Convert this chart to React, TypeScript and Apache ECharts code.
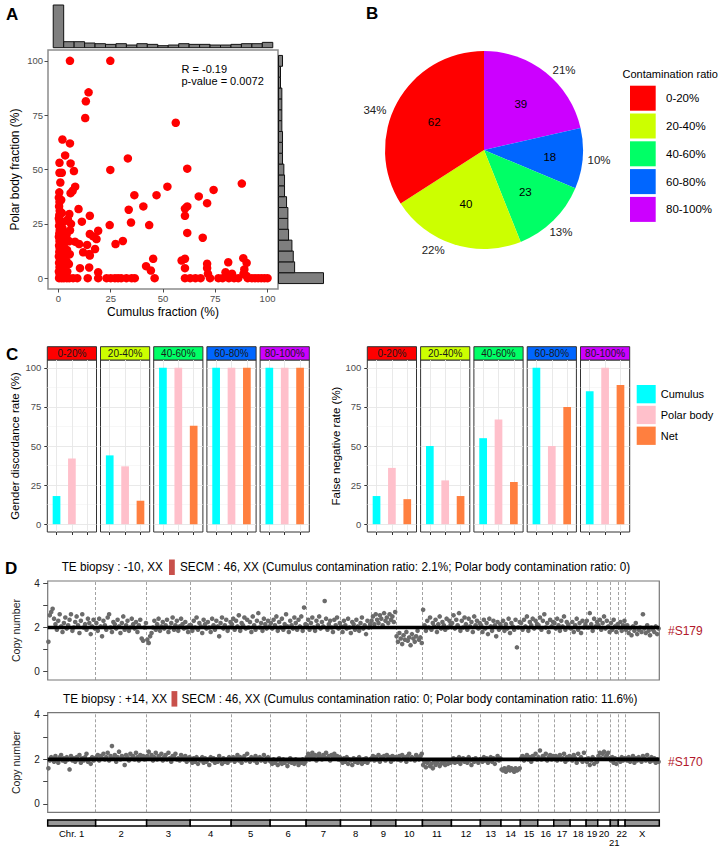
import React, { useEffect, useRef } from "react";
import * as echarts from "echarts";

const FONT = "'Liberation Sans', Arial, Helvetica, sans-serif";

// ---------------- Panel A data ----------------
const cumulusPolarPairs: [number, number][] = [
  [5.5, 100], [24.8, 100], [14.4, 85.5], [13.1, 81.4], [12.8, 73.7], [56.1, 71.5], [1.9, 63.8], [5.5, 62],
  [3.2, 56.5], [33.2, 55.1], [0.5, 53.1], [5.8, 52.8], [7.4, 49.3], [0.5, 48.5], [1.6, 48.5], [24.8, 49.8],
  [61.6, 50.4], [0.9, 44], [8, 42.1], [6.8, 40.2], [5.8, 39.1], [52.1, 42.1], [46.9, 38.2], [36.3, 38.2],
  [87.7, 43.5], [74.2, 40.6], [67.1, 37.6], [71.1, 34.5], [40.6, 33], [61.6, 33], [60.5, 32], [33.6, 31.5],
  [9.6, 31.8], [5.2, 29.5], [15, 28.7], [60.5, 28.7], [11.2, 26], [34.7, 25.6], [24.5, 24.4], [43.4, 24.4],
  [61.6, 20.8], [69, 18.6], [19, 21.8], [16.6, 19.2], [18.2, 18], [15, 20.3], [30.8, 17.1], [27.3, 15.7],
  [7.9, 16.8], [9.9, 15.7], [13.7, 15.3], [11.8, 11.9], [14.7, 11.1], [17.5, 13.4], [15, 10.4], [10.3, 4.6],
  [14.7, 4.9], [19, 2.7], [45.3, 8.9], [41.9, 5.5], [44.2, 3.5], [58.9, 8.1], [60.5, 8.9], [60.5, 4.6],
  [71.1, 6.6], [71.1, 4.6], [81.2, 7.3], [79.9, 2.7], [88.4, 9.2], [90, 7], [88.9, 4],
  [0.3, 0], [0.6, 1.5], [0.2, 3], [0.5, 5], [0.3, 7], [0.7, 8.5], [0.2, 10], [0.4, 12], [0.6, 13.5], [0.3, 15],
  [0.5, 17], [0.2, 19], [0.4, 20.5], [0.6, 22], [0.3, 24], [0.5, 26], [0.2, 27.5], [0.4, 29], [0.6, 31],
  [0.3, 33], [0.5, 35], [0.2, 37], [0.4, 39.5],
  [1.5, 0], [1.8, 4], [1.4, 9], [1.7, 14], [1.5, 18], [1.9, 23], [1.6, 30], [1.3, 36],
  [2.6, 0], [2.4, 2], [2.7, 6], [2.5, 11], [2.8, 16], [2.3, 21], [2.6, 26],
  [4, 0], [4.2, 3], [3.8, 8], [4.1, 13], [4.3, 17.5], [3.9, 20],
  [5.2, 0], [5, 6.5], [5.4, 11], [5.1, 17], [5.5, 22], [6, 25], [4.5, 27],
  [7, 0], [9, 0], [14, 0], [19, 0], [23, 0], [25, 0], [27, 0], [28.5, 0], [30, 0], [32.5, 0], [35, 0],
  [36.5, 0], [46, 0], [60.5, 0], [63, 0], [65.5, 0], [68, 0], [72.5, 0], [76.5, 0], [78.5, 0], [81.5, 0],
  [84, 0], [86, 0], [90.5, 0], [92.5, 0], [94, 0], [95.5, 0], [97, 0], [98.5, 0], [100, 0],
  [71.5, 2], [81, 1.5], [83, 2], [88.5, 2], [90, 1]
];
const histBins = [0, 5, 10, 15, 20, 25, 30, 35, 40, 45, 50, 55, 60, 65, 70, 75, 80, 85, 90, 95, 100];
const cumulusHistCounts = [64, 9, 9, 7, 6, 5, 6, 4, 6, 5, 3, 4, 6, 5, 5, 4, 4, 5, 6, 6, 8];
const polarHistCounts = [67, 24, 22, 20, 15, 14, 14, 12, 9, 9, 8, 6, 6, 6, 5, 5, 5, 5, 3, 3, 6];
const fractionTicks = [0, 25, 50, 75, 100];
const statR = "R = -0.19";
const statP = "p-value = 0.0072";

// ---------------- Panel B data ----------------
const ratioCategories = ["0-20%", "20-40%", "40-60%", "60-80%", "80-100%"];
const ratioCounts = [62, 40, 23, 18, 39];
const ratioColors = ["#FF0000", "#CCFF00", "#00FF66", "#0066FF", "#CC00FF"];

// ---------------- Panel C data ----------------
const sampleTypes = ["Cumulus", "Polar body", "Net"];
const sampleColors = ["#00FFFF", "#FFC0CB", "#FF7F3F"];
const genderCumulus = [18, 44, 100, 100, 100];
const genderPolar = [42, 37, 100, 100, 100];
const genderNet = [0, 15, 63, 100, 100];
const fnCumulus = [18, 50, 55, 100, 85];
const fnPolar = [36, 28, 67, 50, 100];
const fnNet = [16, 18, 27, 75, 89];
const rateTicks = [0, 25, 50, 75, 100];
const rateMinorTicks = [12.5, 37.5, 62.5, 87.5];

// ---------------- Panel D data ----------------
const chromLabels = ["Chr. 1", "2", "3", "4", "5", "6", "7", "8", "9", "10", "11", "12", "13", "14", "15", "16", "17", "18", "19", "20", "21", "22", "X"];
const chromSizes = [240, 255, 218, 205, 195, 180, 172, 152, 125, 133, 145, 145, 103, 97, 87, 80, 82, 80, 58, 63, 40, 34, 171];
const copyNumberS179: number[][] = [
  [1.35, 2.55, 2.7, 2.85, 2.4, 2.15, 1.9, 2.3, 2.6, 2.05, 1.8, 2.2, 2.45, 1.95, 2.1, 2.35, 2.6, 1.85, 2.0, 2.25, 2.5, 2.1, 1.75, 2.3, 2.6, 2.0, 2.15, 1.9, 2.4, 2.2, 1.7, 2.05, 2.35, 1.95],
  [2.2, 1.85, 2.4, 2.05, 1.6, 2.3, 2.1, 1.9, 2.45, 2.6, 2.0, 1.8, 2.25, 2.15, 1.95, 2.35, 2.05, 1.75, 2.2, 2.5, 1.9, 2.1, 2.3, 1.85, 2.0, 2.4, 2.15, 1.95, 2.25, 1.8, 2.1, 2.35, 1.5, 1.4, 2.0, 2.2],
  [1.45, 1.3, 1.6, 1.75, 2.0, 2.3, 1.9, 2.15, 2.4, 1.85, 2.05, 2.25, 1.95, 2.1, 2.35, 1.8, 2.0, 2.2, 2.45, 1.9, 2.1, 2.3, 1.85, 2.05, 2.4, 2.15, 1.95, 2.25, 2.0, 1.8, 2.1],
  [2.1, 1.85, 2.3, 2.0, 2.45, 1.9, 2.2, 2.05, 1.75, 2.35, 2.15, 1.95, 2.25, 2.0, 1.8, 2.4, 2.1, 1.9, 2.3, 2.05, 1.6, 2.2, 2.45, 1.95, 2.1, 2.35, 1.85, 2.0, 2.25],
  [2.15, 2.4, 1.9, 2.3, 2.05, 2.55, 1.85, 2.2, 2.1, 2.45, 1.95, 2.35, 2.0, 2.25, 1.8, 2.5, 2.1, 1.9, 2.3, 2.65, 2.0, 2.2, 1.85, 2.4, 2.15, 1.95, 2.3, 2.05],
  [2.2, 1.95, 2.35, 2.1, 2.5, 1.85, 2.25, 2.0, 2.4, 1.9, 2.15, 2.6, 2.05, 1.8, 2.3, 2.1, 1.95, 2.45, 2.2, 1.9, 2.35, 2.05, 2.5, 1.85, 2.9, 2.15],
  [2.1, 2.35, 1.9, 2.2, 2.45, 2.0, 1.85, 2.3, 2.1, 2.5, 1.95, 2.25, 2.05, 3.2, 2.4, 1.9, 2.15, 2.3, 2.0, 1.8, 2.35, 2.1, 2.45, 1.95, 2.2],
  [2.05, 1.8, 2.3, 2.1, 1.95, 2.4, 2.0, 1.75, 2.25, 2.15, 1.9, 2.35, 2.05, 1.85, 2.2, 2.45, 1.95, 2.1, 1.7, 2.3, 2.0, 2.15],
  [2.3, 2.5, 2.15, 2.6, 2.35, 2.2, 2.55, 2.4, 2.1, 2.65, 2.3, 2.45, 2.2, 2.6, 2.35, 2.5, 2.25, 2.7],
  [1.6, 1.35, 1.75, 1.5, 1.25, 1.65, 1.45, 1.8, 1.4, 1.55, 1.2, 1.7, 1.5, 1.35, 1.6, 1.85, 1.45, 1.55, 1.3],
  [2.8, 2.1, 1.85, 2.3, 2.0, 2.45, 1.9, 2.2, 2.05, 2.35, 1.8, 2.15, 2.5, 1.95, 2.25, 2.1, 1.9, 2.4, 2.0, 2.3, 2.15],
  [2.2, 2.55, 1.95, 2.35, 2.1, 2.65, 1.85, 2.3, 2.0, 2.45, 2.15, 1.9, 2.4, 2.05, 2.25, 1.8, 2.5, 2.1, 2.3, 1.95, 2.2],
  [2.1, 1.8, 2.35, 1.95, 2.2, 1.7, 2.4, 2.05, 1.85, 2.3, 2.1, 1.6, 2.25, 1.9, 2.15],
  [2.0, 2.3, 1.85, 2.15, 1.95, 2.4, 1.75, 2.2, 2.05, 1.9, 2.35, 1.1, 2.0, 2.25],
  [2.2, 1.9, 2.35, 2.05, 2.5, 1.85, 2.25, 2.1, 2.4, 1.95, 2.3, 2.15],
  [2.1, 2.45, 1.9, 2.3, 2.6, 2.0, 2.2, 1.8, 2.35, 2.05, 2.25],
  [2.2, 1.95, 2.4, 2.1, 1.85, 2.3, 2.05, 2.5, 1.9, 2.25, 2.15, 2.0],
  [1.95, 2.25, 1.8, 2.1, 2.4, 1.9, 2.2, 1.75, 2.3, 2.0, 2.15],
  [2.3, 2.0, 2.65, 2.15, 1.85, 2.4, 2.05, 2.25],
  [2.1, 2.35, 1.9, 2.2, 2.5, 1.95, 2.3, 2.05, 1.8],
  [2.2, 1.9, 2.35, 2.05, 1.8, 2.15],
  [2.0, 2.25, 1.85, 2.1, 2.3],
  [1.9, 2.1, 1.75, 1.95, 1.65, 2.05, 1.85, 2.2, 1.7, 1.9, 2.0, 1.8, 2.6, 1.95, 1.75, 2.1, 1.85, 1.65, 2.0, 1.9, 1.8, 2.05, 1.7, 1.95]
];
const copyNumberS170: number[][] = [
  [1.6, 1.95, 2.1, 2.05, 1.9, 2.15, 2.0, 1.85, 2.1, 2.2, 1.95, 2.05, 1.9, 2.1, 2.0, 1.55, 2.15, 1.95, 2.05, 1.9, 2.1, 2.0, 2.2, 1.85, 2.05, 1.95, 2.1, 2.25, 1.9, 2.0, 1.8, 2.1, 1.95, 2.05],
  [2.1, 2.2, 1.95, 2.15, 2.05, 2.25, 2.0, 2.1, 2.3, 1.95, 2.15, 2.6, 2.05, 2.2, 1.9, 2.1, 2.35, 2.0, 2.15, 2.05, 1.75, 2.2, 2.1, 1.95, 2.25, 2.05, 2.15, 2.0, 2.3, 2.1, 1.95, 2.2, 2.05, 2.15, 2.0, 2.1],
  [2.15, 2.35, 2.05, 2.2, 1.95, 2.1, 2.3, 2.0, 2.15, 2.05, 2.25, 1.95, 2.1, 2.2, 2.0, 2.3, 2.05, 1.9, 2.15, 2.1, 2.25, 2.0, 2.05, 1.95, 2.2, 2.1, 2.0, 2.15, 1.9, 2.05, 2.1],
  [1.95, 1.85, 2.05, 1.9, 2.1, 1.8, 2.0, 1.95, 2.1, 1.85, 2.05, 1.9, 2.0, 1.75, 2.1, 1.95, 2.05, 1.85, 2.0, 1.9, 2.15, 1.95, 1.8, 2.05, 1.9, 2.0, 1.85, 2.1, 1.95],
  [2.0, 2.1, 1.9, 2.05, 2.2, 1.95, 2.1, 1.85, 2.05, 2.15, 1.95, 2.25, 2.0, 1.9, 2.1, 2.05, 1.95, 2.15, 1.85, 2.05, 2.1, 1.95, 2.0, 2.2, 1.9, 2.05, 2.1, 1.95],
  [1.9, 1.8, 2.0, 1.85, 1.95, 1.75, 2.05, 1.9, 1.8, 2.0, 1.85, 1.95, 1.7, 1.9, 2.05, 1.85, 1.95, 1.8, 2.0, 1.9, 1.75, 1.95, 1.85, 2.0, 1.8, 1.9],
  [2.1, 2.25, 2.0, 2.15, 2.3, 2.05, 2.2, 1.95, 2.15, 2.25, 2.1, 2.0, 2.2, 2.1, 2.3, 2.05, 2.15, 1.95, 2.2, 2.1, 2.25, 2.05, 2.15, 2.0, 2.1],
  [1.95, 1.85, 2.05, 1.9, 2.1, 1.8, 2.0, 1.95, 1.75, 2.05, 1.9, 2.0, 1.85, 2.1, 1.95, 1.8, 2.0, 1.9, 2.05, 1.85, 1.95, 2.0],
  [2.05, 2.15, 1.95, 2.1, 2.0, 2.2, 1.9, 2.1, 2.05, 2.15, 1.95, 2.2, 2.05, 2.1, 1.9, 2.15, 2.0, 2.1],
  [2.1, 2.0, 2.15, 1.95, 2.2, 2.05, 2.1, 1.9, 2.15, 2.25, 2.0, 2.1, 2.05, 1.95, 2.2, 2.1, 2.0, 2.15, 2.25],
  [1.75, 1.9, 1.65, 1.85, 1.95, 1.7, 1.8, 1.6, 1.9, 1.75, 1.85, 1.95, 1.7, 1.8, 1.9, 1.85, 1.75, 1.95, 1.8, 1.9, 1.85],
  [1.95, 2.05, 1.85, 2.0, 1.9, 2.1, 1.8, 1.95, 2.05, 1.9, 2.0, 1.85, 2.1, 1.95, 1.75, 2.0, 1.9, 2.05, 1.95, 1.85, 2.0],
  [2.0, 1.9, 2.1, 1.95, 2.05, 1.85, 2.0, 2.1, 1.9, 2.05, 1.8, 2.0, 2.15, 1.95, 2.05],
  [1.55, 1.5, 1.6, 1.45, 1.55, 1.65, 1.5, 1.6, 1.55, 1.45, 1.6, 1.5, 1.55, 1.6],
  [2.05, 2.15, 1.95, 2.1, 2.2, 2.0, 2.1, 1.9, 2.15, 2.05, 2.25, 2.0],
  [2.1, 2.4, 2.0, 2.15, 2.05, 2.25, 1.95, 2.1, 2.2, 2.0, 2.15],
  [2.05, 2.15, 1.95, 2.1, 2.2, 2.0, 2.05, 2.25, 1.9, 2.1, 2.0, 2.15],
  [2.1, 1.95, 2.2, 2.05, 1.85, 2.25, 2.0, 2.1, 1.9, 2.3, 2.0],
  [1.9, 2.05, 1.75, 1.95, 2.1, 1.8, 2.0, 1.9],
  [2.15, 2.3, 2.05, 2.25, 2.35, 2.1, 2.2, 2.3, 2.05],
  [1.95, 2.1, 1.85, 2.05, 1.8, 2.0],
  [2.0, 1.9, 2.1, 1.95, 2.05],
  [2.05, 1.95, 2.1, 1.9, 2.0, 2.15, 1.85, 2.05, 1.95, 2.1, 2.0, 1.9, 2.15, 2.05, 1.95, 2.2, 2.0, 1.9, 2.1, 1.95, 2.05, 1.85, 2.0, 1.9]
];
const copyNumberLabelTicks = [0, 2, 4];
const copyNumberTicks = [0, 1, 2, 3, 4];
const diploidLevel = 2;
const sampleIds = ["#S179", "#S170"];
const titleLeft = ["TE biopsy : -10, XX", "TE biopsy : +14, XX"];
const titleRight = [
  "SECM : 46, XX (Cumulus contamination ratio: 2.1%; Polar body contamination ratio: 0)",
  "SECM : 46, XX (Cumulus contamination ratio: 0; Polar body contamination ratio: 11.6%)"
];

function buildOption(): any {
  const grid: any[] = [];
  const xAxis: any[] = [];
  const yAxis: any[] = [];
  const series: any[] = [];
  const graphic: any[] = [];

  const addGrid = (g: any, x: any, y: any) => {
    grid.push({ containLabel: false, outerBoundsMode: "none", ...g });
    const idx = grid.length - 1;
    xAxis.push({ gridIndex: idx, nameMoveOverlap: false, ...x });
    yAxis.push({ gridIndex: idx, nameMoveOverlap: false, ...y });
    return idx;
  };
  const hidden = { show: false };
  const noLine = { show: false, onZero: false };

  // ===== Panel A: scatter =====
  const gA = addGrid(
    { left: 48, top: 50, width: 230, height: 239, show: true, borderColor: "#8c8c8c", borderWidth: 1.5, backgroundColor: "#fff" },
    {
      type: "value", min: -5, max: 105, axisLine: noLine, splitLine: hidden,
      axisTick: { show: true, customValues: fractionTicks, length: 3.5, lineStyle: { color: "#4d4d4d" } },
      axisLabel: { customValues: fractionTicks, color: "#4d4d4d", fontSize: 9.5, margin: 4 },
      name: "Cumulus fraction (%)", nameLocation: "middle", nameGap: 16.5, nameTextStyle: { fontSize: 12, color: "#000" }
    },
    {
      type: "value", min: -5, max: 105, axisLine: noLine, splitLine: hidden,
      axisTick: { show: true, customValues: fractionTicks, length: 3.5, lineStyle: { color: "#4d4d4d" } },
      axisLabel: { customValues: fractionTicks, color: "#4d4d4d", fontSize: 9.5, margin: 5 },
      name: "Polar body fraction (%)", nameLocation: "middle", nameGap: 27, nameTextStyle: { fontSize: 12, color: "#000" }
    }
  );
  series.push({
    type: "scatter", xAxisIndex: gA, yAxisIndex: gA, data: cumulusPolarPairs, symbolSize: 8.5,
    itemStyle: { color: "#FF0000", opacity: 1 }, silent: true, z: 3
  });

  // top marginal histogram
  const gT = addGrid(
    { left: 48, top: 5, width: 230, height: 42.7 },
    { type: "value", min: -5, max: 105, show: false, axisLine: noLine },
    { type: "value", min: 0, max: 64, show: false, axisLine: noLine }
  );
  series.push({
    type: "custom", xAxisIndex: gT, yAxisIndex: gT, silent: true,
    data: histBins.map((b, i) => [b, cumulusHistCounts[i]]),
    renderItem: (_p: any, api: any) => {
      const c = api.value(0), n = api.value(1);
      const p0 = api.coord([c - 2.5, 0]);
      const p1 = api.coord([c + 2.5, n]);
      return { type: "rect", shape: { x: p0[0], y: p1[1], width: p1[0] - p0[0], height: p0[1] - p1[1] }, style: { fill: "#7f7f7f", stroke: "#111", lineWidth: 1 } };
    }
  });

  // right marginal histogram
  const gR = addGrid(
    { left: 278.5, top: 50, width: 45, height: 239 },
    { type: "value", min: 0, max: 67, show: false, axisLine: noLine },
    { type: "value", min: -5, max: 105, show: false, axisLine: noLine }
  );
  series.push({
    type: "custom", xAxisIndex: gR, yAxisIndex: gR, silent: true,
    data: histBins.map((b, i) => [polarHistCounts[i], b]),
    renderItem: (_p: any, api: any) => {
      const n = api.value(0), c = api.value(1);
      const p0 = api.coord([0, c + 2.5]);
      const p1 = api.coord([n, c - 2.5]);
      return { type: "rect", shape: { x: p0[0], y: p0[1], width: p1[0] - p0[0], height: p1[1] - p0[1] }, style: { fill: "#7f7f7f", stroke: "#111", lineWidth: 1 } };
    }
  });

  graphic.push(
    { type: "text", left: 6, top: 6, style: { text: "A", fontSize: 17, fontWeight: "bold", fill: "#000", fontFamily: FONT } },
    { type: "text", x: 181.5, y: 68.5, style: { text: statR, fontSize: 11, fill: "#000", fontFamily: FONT, verticalAlign: "middle" } },
    { type: "text", x: 181.5, y: 81, style: { text: statP, fontSize: 11, fill: "#000", fontFamily: FONT, verticalAlign: "middle" } }
  );

  // ===== Panel B: pie =====
  const pieCenter = [484, 150];
  const order = [4, 3, 2, 1, 0];
  const countOffsets: number[][] = [[0, 0], [7, 2], [0, 0], [0, -2], [2, 0]];
  const pctOffsets: number[][] = [[9, 9], [1.5, 0], [-3, 1], [-16, -9], [-9, 15]];
  const pieBase = order.map((i) => ({ name: ratioCategories[i], value: ratioCounts[i] }));
  series.push({
    type: "pie", center: pieCenter, radius: [0, 99], startAngle: 90, clockwise: true, silent: true,
    data: pieBase.map((d, k) => ({ ...d, itemStyle: { color: ratioColors[order[k]] } })),
    itemStyle: { borderWidth: 0 }, label: { show: false }, labelLine: { show: false }, emphasis: { disabled: true }
  });
  series.push({
    type: "pie", center: pieCenter, radius: [0, 112], startAngle: 90, clockwise: true, silent: true, z: 3,
    data: pieBase.map((d, k) => ({ ...d, label: { offset: countOffsets[k] } })),
    itemStyle: { color: "rgba(0,0,0,0)", borderWidth: 0 },
    label: { show: true, position: "inside", formatter: "{c}", color: "#000", fontSize: 11.5, fontFamily: FONT },
    labelLine: { show: false }, emphasis: { disabled: true }
  });
  // percentage labels outside the pie, positioned from the slice shares
  const pieTotal = ratioCounts.reduce((a, b) => a + b, 0);
  let cum = 0;
  order.forEach((i, k) => {
    const share = ratioCounts[i] / pieTotal;
    const mid = (cum + share / 2) * Math.PI * 2;
    cum += share;
    const r = 114;
    graphic.push({
      type: "text",
      x: pieCenter[0] + r * Math.sin(mid) + pctOffsets[k][0],
      y: pieCenter[1] - r * Math.cos(mid) + pctOffsets[k][1],
      style: { text: Math.round(share * 100) + "%", fontSize: 11.5, fill: "#222", fontFamily: FONT, align: "center", verticalAlign: "middle" }
    });
  });
  graphic.push(
    { type: "text", left: 366, top: 5, style: { text: "B", fontSize: 17, fontWeight: "bold", fill: "#000", fontFamily: FONT } },
    { type: "text", x: 622.5, y: 73.5, style: { text: "Contamination ratio", fontSize: 11, fill: "#000", fontFamily: FONT, verticalAlign: "middle" } }
  );
  ratioCategories.forEach((c, i) => {
    const y = 85.7 + i * 27.8;
    graphic.push(
      { type: "rect", shape: { x: 630, y, width: 25.7, height: 25 }, style: { fill: ratioColors[i] } },
      { type: "text", x: 666, y: y + 12.5, style: { text: c, fontSize: 11.5, fill: "#000", fontFamily: FONT, verticalAlign: "middle" } }
    );
  });

  // ===== Panel C: faceted bars =====
  const panels = [
    { left0: 47.3, pitch: 53.2, name: "Gender discordance rate (%)", gap: 26.5, vals: [genderCumulus, genderPolar, genderNet] },
    { left0: 367.3, pitch: 53.3, name: "False negative rate (%)", gap: 25.5, vals: [fnCumulus, fnPolar, fnNet] }
  ];
  const facetW = 49.2, facetTop = 360, facetH = 172;
  panels.forEach((p) => {
    ratioCategories.forEach((cat, i) => {
      const left = p.left0 + i * p.pitch;
      const first = i === 0;
      const g = addGrid(
        { left, top: facetTop, width: facetW, height: facetH, show: true, borderColor: "#333", borderWidth: 1, backgroundColor: "#fff" },
        {
          type: "value", min: 0.4, max: 3.6, axisLine: noLine, splitLine: hidden, axisLabel: hidden,
          axisTick: { show: true, customValues: [1, 2, 3], length: 3, lineStyle: { color: "#333" } }
        },
        first
          ? {
              type: "value", min: -5, max: 105, axisLine: noLine, splitLine: hidden,
              axisTick: { show: true, customValues: rateTicks, length: 3, lineStyle: { color: "#333" } },
              axisLabel: { customValues: rateTicks, color: "#4d4d4d", fontSize: 9.5, margin: 6 },
              name: p.name, nameLocation: "middle", nameGap: p.gap, nameTextStyle: { fontSize: 11.5, color: "#000" }
            }
          : { type: "value", min: -5, max: 105, axisLine: noLine, splitLine: hidden, axisTick: hidden, axisLabel: hidden }
      );
      const lines: any[] = [];
      rateMinorTicks.forEach((v) => lines.push({ yAxis: v, lineStyle: { color: "#f2f2f2", width: 0.6, type: "solid" } }));
      rateTicks.forEach((v) => lines.push({ yAxis: v, lineStyle: { color: "#e6e6e6", width: 0.9, type: "solid" } }));
      [1, 2, 3].forEach((v) => lines.push({ xAxis: v, lineStyle: { color: "#e6e6e6", width: 0.9, type: "solid" } }));
      series.push({
        type: "bar", xAxisIndex: g, yAxisIndex: g, barWidth: 7.7, silent: true, z: 2,
        data: sampleTypes.map((s, j) => ({ name: s, value: [j + 1, p.vals[j][i]], itemStyle: { color: sampleColors[j] } })),
        markLine: { silent: true, symbol: "none", z: 1, label: { show: false }, emphasis: { disabled: true }, data: lines }
      });
      graphic.push(
        { type: "rect", shape: { x: left, y: 346.7, width: facetW, height: 13.3 }, style: { fill: ratioColors[i], stroke: "#333", lineWidth: 1 } },
        { type: "text", x: left + facetW / 2, y: 353.6, style: { text: cat, fontSize: 10, fill: "#1a1a1a", fontFamily: FONT, align: "center", verticalAlign: "middle" } }
      );
    });
  });
  sampleTypes.forEach((s, i) => {
    const y = 385 + i * 20.8;
    graphic.push(
      { type: "rect", shape: { x: 636.7, y, width: 19, height: 18.3 }, style: { fill: sampleColors[i] } },
      { type: "text", x: 660.7, y: y + 9.2, style: { text: s, fontSize: 11, fill: "#000", fontFamily: FONT, verticalAlign: "middle" } }
    );
  });
  graphic.push({ type: "text", left: 6, top: 346, style: { text: "C", fontSize: 17, fontWeight: "bold", fill: "#000", fontFamily: FONT } });

  // ===== Panel D: copy number profiles =====
  const starts: number[] = [];
  let acc = 0;
  chromSizes.forEach((s) => { starts.push(acc); acc += s; });
  const total = acc;
  const boundaries = starts.slice(1);
  const dLeft = 47.7, dWidth = 611.6;
  const dPanels = [
    { top: 581, height: 99, values: copyNumberS179, titleY: 567, left1: 61.7, barX: 169, left2: 180, labelY: 631 },
    { top: 712.6, height: 99.7, values: copyNumberS170, titleY: 698.6, left1: 63, barX: 171.5, left2: 181.5, labelY: 762 }
  ];
  const narrow = 0.89;
  dPanels.forEach((dp, k) => {
    const g = addGrid(
      { left: dLeft, top: dp.top, width: dWidth, height: dp.height, show: true, borderColor: "#777", borderWidth: 1.2, backgroundColor: "#fff" },
      { type: "value", min: 0, max: total, show: false, axisLine: noLine },
      {
        type: "value", min: -0.376, max: 4.104, axisLine: noLine, splitLine: hidden,
        axisTick: { show: true, customValues: copyNumberTicks, length: 4.5, lineStyle: { color: "#444" } },
        axisLabel: { customValues: copyNumberLabelTicks, color: "#222", fontSize: 10, margin: 8 },
        name: "Copy number", nameLocation: "middle", nameGap: 26, nameTextStyle: { fontSize: 10.5, color: "#222" }
      }
    );
    const pts: number[][] = [];
    dp.values.forEach((arr, c) => {
      arr.forEach((v, j) => pts.push([starts[c] + ((j + 0.5) * chromSizes[c]) / arr.length, v]));
    });
    series.push({
      type: "scatter", xAxisIndex: g, yAxisIndex: g, data: pts, symbolSize: 4.6, silent: true, z: 2,
      itemStyle: { color: "#6b6b6b", opacity: 1 },
      markLine: {
        silent: true, symbol: "none", z: 1, label: { show: false }, emphasis: { disabled: true },
        lineStyle: { color: "#8c8c8c", width: 0.8, type: [3, 2] },
        data: boundaries.map((b) => ({ xAxis: b }))
      }
    });
    series.push({
      type: "line", xAxisIndex: g, yAxisIndex: g, data: [[0, diploidLevel], [total, diploidLevel]], silent: true, z: 4,
      symbol: "none", lineStyle: { color: "#000", width: 3.6 }
    });
    graphic.push(
      { type: "text", x: dp.left1, y: dp.titleY, scaleX: narrow, style: { text: titleLeft[k], fontSize: 13.2, fill: "#000", fontFamily: FONT, verticalAlign: "middle" } },
      { type: "rect", shape: { x: dp.barX, y: dp.titleY - 7.5, width: 5.8, height: 15.5 }, style: { fill: "#C8504B" } },
      { type: "text", x: dp.left2, y: dp.titleY, scaleX: narrow, style: { text: titleRight[k], fontSize: 13.2, fill: "#000", fontFamily: FONT, verticalAlign: "middle" } },
      { type: "text", x: 668, y: dp.labelY, style: { text: sampleIds[k], fontSize: 12, fill: "#B2182B", fontFamily: FONT, verticalAlign: "middle" } }
    );
  });
  graphic.push({ type: "text", left: 5, top: 560, style: { text: "D", fontSize: 17, fontWeight: "bold", fill: "#000", fontFamily: FONT } });

  // chromosome ideogram bar
  const gC = addGrid(
    { left: dLeft, top: 820, width: dWidth, height: 6 },
    { type: "value", min: 0, max: total, show: false, axisLine: noLine },
    { type: "value", min: 0, max: 1, show: false, axisLine: noLine }
  );
  series.push({
    type: "custom", xAxisIndex: gC, yAxisIndex: gC, silent: true, encode: { x: [0, 1] },
    data: chromSizes.map((s, i) => [starts[i], starts[i] + s, i]),
    renderItem: (_p: any, api: any) => {
      const s = api.value(0), e = api.value(1), i = api.value(2);
      const a = api.coord([s, 1]);
      const b = api.coord([e, 0]);
      return {
        type: "group",
        children: [
          { type: "rect", shape: { x: a[0], y: a[1], width: b[0] - a[0], height: b[1] - a[1] }, style: { fill: i % 2 === 0 ? "#999" : "#fff", stroke: "#000", lineWidth: 1.5 } },
          { type: "text", x: (a[0] + b[0]) / 2, y: b[1] + (i === 20 ? 16.5 : 7.5), style: { text: chromLabels[i], fontSize: 9.5, fill: "#000", fontFamily: FONT, align: "center", verticalAlign: "middle" } }
        ]
      };
    }
  });

  return {
    animation: false,
    backgroundColor: "#fff",
    textStyle: { fontFamily: FONT },
    tooltip: { show: false },
    grid, xAxis, yAxis, series, graphic
  };
}

export default function App() {
  const ref = useRef<HTMLDivElement>(null);
  useEffect(() => {
    document.body.style.margin = "0";
    const chart = echarts.init(ref.current!, null, { renderer: "svg" });
    chart.setOption(buildOption());
    return () => chart.dispose();
  }, []);
  return <div ref={ref} style={{ position: "absolute", left: 0, top: 0, width: 723, height: 852, background: "#fff" }} />;
}
